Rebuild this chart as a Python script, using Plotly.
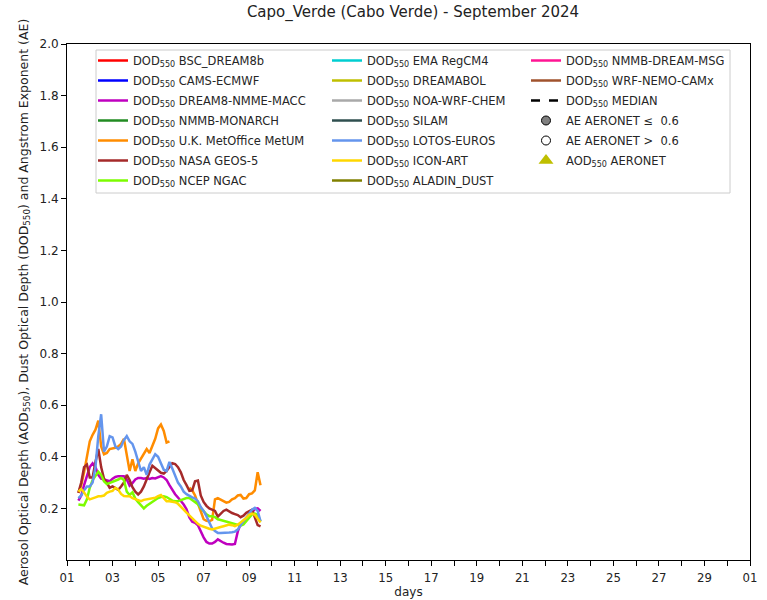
import pandas as pd
import plotly.graph_objects as go

# 3-hourly forecast times
times = pd.date_range("2024-09-01 12:00", periods=65, freq="3h")

# Dust optical depth at 550 nm per model
dream8_macc = [0.23, 0.25, 0.29, 0.33, 0.36, 0.375, 0.36, 0.33, 0.315, 0.312, 0.308, 0.305, 0.315,
               0.322, 0.325, 0.325, 0.325, 0.312, 0.288, 0.298, 0.312, 0.318, 0.318, 0.315, 0.318,
               0.314, 0.318, 0.316, 0.32, 0.325, 0.32, 0.31, 0.29, 0.27, 0.255, 0.242, 0.23, 0.215,
               0.197, 0.165, 0.148, 0.144, 0.135, 0.108, 0.088, 0.07, 0.064, 0.064, 0.07, 0.08, 0.072,
               0.067, 0.062, 0.06, 0.06, 0.062, 0.11, 0.14, 0.148, 0.156, 0.17, 0.185, 0.198, 0.2, 0.19]

metum = [0.26, 0.29, 0.34, 0.40, 0.46, 0.485, 0.505, 0.54, 0.44, 0.41, 0.415, 0.43, 0.432, 0.435,
         0.44, 0.45, 0.47, 0.40, 0.345, 0.39, 0.345, 0.375, 0.395, 0.41, 0.43, 0.415, 0.44, 0.47,
         0.51, 0.525, 0.50, 0.455, 0.46, None, None, None, None, None, None, 0.28, 0.27, 0.25, 0.22,
         0.185, 0.158, 0.152, 0.15, 0.155, 0.235, 0.24, 0.235, 0.23, 0.222, 0.225, 0.235, 0.24,
         0.25, 0.252, 0.238, 0.24, 0.255, 0.258, 0.27, 0.34, 0.29]

geos5 = [0.26, 0.30, 0.36, 0.37, 0.32, 0.32, 0.38, 0.43, 0.36, 0.315, 0.30, 0.28, 0.285, 0.278,
         0.272, 0.285, 0.30, 0.33, 0.31, 0.282, 0.265, 0.254, 0.265, 0.285, 0.315, 0.34, 0.365,
         0.355, 0.345, 0.338, 0.335, 0.345, 0.36, 0.375, 0.372, 0.36, 0.34, 0.31, 0.29, 0.268, 0.27,
         0.305, 0.308, 0.25, 0.225, 0.21, 0.20, 0.196, 0.19, 0.168, 0.18, 0.19, 0.195, 0.188, 0.182,
         0.178, 0.174, 0.166, 0.172, 0.183, 0.19, 0.195, 0.165, 0.135, 0.13]

ngac = [0.215, 0.212, 0.212, 0.235, 0.28, 0.31, 0.325, 0.342, 0.33, 0.305, 0.294, 0.298, 0.303,
        0.306, 0.312, 0.318, 0.31, 0.265, 0.252, 0.262, 0.238, 0.224, 0.212, 0.2, 0.21, 0.218,
        0.226, 0.232, 0.24, 0.244, 0.247, 0.244, 0.238, 0.23, 0.228, 0.228, 0.232, 0.236, 0.24,
        0.24, 0.232, 0.224, 0.216, 0.202, 0.19, 0.177, 0.17, 0.17, 0.166, 0.158, 0.155, 0.152,
        0.149, 0.146, 0.143, 0.14, 0.137, 0.133, 0.138, 0.15, 0.165, 0.177, 0.18, 0.175, 0.15]

lotos = [0.24, 0.25, 0.27, 0.285, 0.285, 0.30, 0.36, 0.48, 0.565, 0.42, 0.44, 0.48, 0.475, 0.44,
         0.43, 0.44, 0.465, 0.48, 0.46, 0.45, 0.42, 0.38, 0.345, 0.36, 0.33, 0.37, 0.39, 0.41, 0.40,
         0.375, 0.35, 0.345, 0.38, 0.355, 0.325, 0.30, 0.285, 0.265, 0.255, 0.248, 0.243, 0.238,
         0.228, 0.205, 0.19, 0.17, 0.145, 0.122, 0.112, 0.105, 0.105, 0.105, 0.105, 0.107, 0.108,
         0.11, 0.118, 0.138, 0.152, 0.164, 0.18, 0.195, 0.202, 0.19, 0.15]

icon_art = [0.265, 0.275, 0.262, 0.245, 0.235, 0.238, 0.243, 0.247, 0.247, 0.25, 0.26, 0.265,
            0.268, 0.28, 0.273, 0.256, 0.248, 0.247, 0.247, 0.24, 0.235, 0.23, 0.228, 0.233, 0.235,
            0.235, 0.238, 0.241, 0.248, 0.252, 0.24, 0.228, 0.228, 0.227, 0.224, 0.218, 0.205,
            0.195, 0.184, 0.173, 0.162, 0.15, 0.14, 0.133, 0.128, 0.125, 0.121, 0.118, 0.122, 0.126,
            0.128, 0.131, 0.134, 0.137, 0.135, 0.131, 0.137, 0.145, 0.153, 0.163, 0.175, 0.18, 0.175,
            0.16, 0.145]

# (label, colour, values, legend column)
models = [
    ("BSC_DREAM8b", "#FF0000", None, "legend"),
    ("CAMS-ECMWF", "#0000FF", None, "legend"),
    ("DREAM8-NMME-MACC", "#BF00BF", dream8_macc, "legend"),
    ("NMMB-MONARCH", "#228B22", None, "legend"),
    ("U.K. MetOffice MetUM", "#FF8C00", metum, "legend"),
    ("NASA GEOS-5", "#A52A2A", geos5, "legend"),
    ("NCEP NGAC", "#7CFC00", ngac, "legend"),
    ("EMA RegCM4", "#00CED1", None, "legend2"),
    ("DREAMABOL", "#BFBF00", None, "legend2"),
    ("NOA-WRF-CHEM", "#A9A9A9", None, "legend2"),
    ("SILAM", "#2F4F4F", None, "legend2"),
    ("LOTOS-EUROS", "#6495ED", lotos, "legend2"),
    ("ICON-ART", "#FFD700", icon_art, "legend2"),
    ("ALADIN_DUST", "#808000", None, "legend2"),
    ("NMMB-DREAM-MSG", "#FF1493", None, "legend3"),
    ("WRF-NEMO-CAMx", "#A0522D", None, "legend3"),
]

day_ticks = pd.date_range("2024-09-01", "2024-10-01", freq="D")
day_labels = [d.strftime("%d") if i % 2 == 0 else "" for i, d in enumerate(day_ticks)]
y_ticks = [0.2, 0.4, 0.6, 0.8, 1.0, 1.2, 1.4, 1.6, 1.8, 2.0]

W, H = 767, 600
ML, MR, MT, MB = 67, 17, 44, 40
PW, PH = W - ML - MR, H - MT - MB


def px_x(p):
    return (p - ML) / PW


def px_y(p):
    return (H - MB - p) / PH


fig = go.Figure()

for name, color, vals, leg in models:
    fig.add_trace(go.Scatter(
        x=times if vals is not None else [None],
        y=vals if vals is not None else [None],
        mode="lines",
        name=f"DOD<sub>550</sub> {name}",
        line=dict(color=color, width=2.5),
        legend=leg,
        legendgroup=name,
        connectgaps=False,
    ))

fig.add_trace(go.Scatter(x=[None], y=[None], mode="lines", name="DOD<sub>550</sub> MEDIAN",
                         line=dict(color="black", width=2.5, dash="dash"),
                         legend="legend3", legendgroup="median"))
fig.add_trace(go.Scatter(x=[None], y=[None], mode="markers", name="AE AERONET ≤  0.6",
                         marker=dict(color="#808080", size=9, line=dict(color="black", width=1)),
                         legend="legend3", legendgroup="ae_low"))
fig.add_trace(go.Scatter(x=[None], y=[None], mode="markers", name="AE AERONET >  0.6",
                         marker=dict(color="white", size=9, line=dict(color="black", width=1)),
                         legend="legend3", legendgroup="ae_high"))
fig.add_trace(go.Scatter(x=[None], y=[None], mode="markers", name="AOD<sub>550</sub> AERONET",
                         marker=dict(color="#BFBF00", size=13, symbol="triangle-up"),
                         legend="legend3", legendgroup="aod"))

leg_common = dict(
    bgcolor="rgba(0,0,0,0)", borderwidth=0, xanchor="left", yanchor="top",
    font=dict(family="DejaVu Sans", size=11.5, color="#262626"),
    tracegroupgap=1, orientation="v",
)

axis_font = dict(family="DejaVu Sans", size=12, color="#222222")

fig.update_layout(
    width=W, height=H,
    margin=dict(l=ML, r=MR, t=MT, b=MB),
    paper_bgcolor="white", plot_bgcolor="white",
    title=dict(text="Capo_Verde (Cabo Verde) - September 2024", x=413 / W,
               xanchor="center", y=1 - 12 / H, yanchor="middle",
               font=dict(family="DejaVu Sans", size=15, color="#222222")),
    legend=dict(x=px_x(93), y=px_y(46), **leg_common),
    legend2=dict(x=px_x(327), y=px_y(46), **leg_common),
    legend3=dict(x=px_x(526), y=px_y(46), **leg_common),
    xaxis=dict(
        type="date", range=["2024-09-01", "2024-10-01"],
        tickvals=day_ticks, ticktext=day_labels,
        ticks="outside", ticklen=5, tickcolor="black", tickwidth=1,
        showline=True, linecolor="black", linewidth=1, mirror=True,
        showgrid=False, zeroline=False, automargin=False,
        tickfont=dict(family="DejaVu Sans Condensed, DejaVu Sans", size=13, color="#222222"),
        title=dict(text="days", font=axis_font, standoff=4),
    ),
    yaxis=dict(
        range=[0, 2.0], tickvals=y_ticks, ticktext=[f"{v:.1f}" for v in y_ticks],
        ticks="outside", ticklen=5, tickcolor="black", tickwidth=1,
        showline=True, linecolor="black", linewidth=1, mirror=True,
        showgrid=False, zeroline=False, tickfont=axis_font, automargin=False,
        title=dict(text="Aerosol Optical Depth (AOD<sub>550</sub>), Dust Optical Depth (DOD<sub>550</sub>) "
                        "and Angstrom Exponent (AE)",
                   font=dict(family="DejaVu Sans", size=12.5, color="#222222"), standoff=8),
    ),
    shapes=[dict(type="rect", xref="paper", yref="paper",
                 x0=px_x(96), x1=px_x(730), y0=px_y(193), y1=px_y(50),
                 line=dict(color="#CCCCCC", width=1), fillcolor="white", layer="below")],
    showlegend=True,
)

fig.write_html("out.html")
